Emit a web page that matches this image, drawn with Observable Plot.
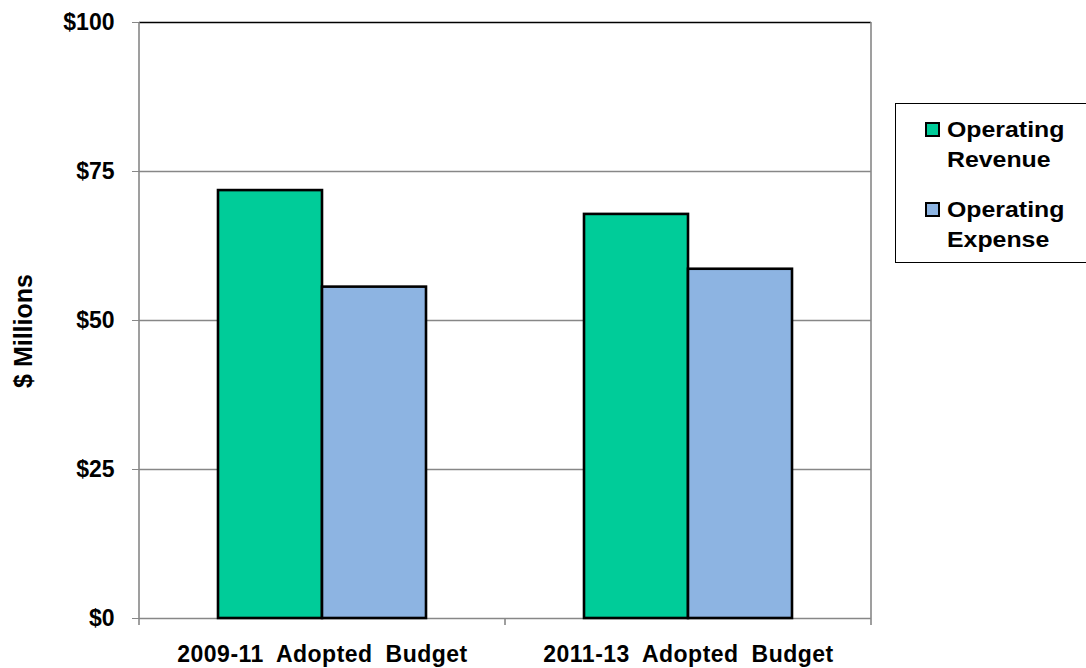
<!DOCTYPE html>
<html><head><meta charset="utf-8">
<script src="https://cdn.jsdelivr.net/npm/d3@7"></script>
<script src="https://cdn.jsdelivr.net/npm/@observablehq/plot@0.6"></script>
<style>
body{margin:0;background:#fff;font-family:"Liberation Sans",Arial,sans-serif;}
#wrap{position:relative;width:1086px;height:668px;overflow:hidden;}
#legend{position:absolute;left:895px;top:103px;width:195px;height:160px;border:1px solid #000;box-sizing:border-box;background:#fff}
.sw{position:absolute;left:29px;width:11px;height:11px;border:2px solid #000}
.item{position:absolute;left:51px;font-weight:bold;font-size:22px;line-height:30px;color:#000;white-space:nowrap;transform:scaleX(1.13);transform-origin:left center}
</style></head>
<body><div id="wrap"></div>
<script>
const budgets = ["2009-11 Adopted Budget", "2011-13 Adopted Budget"];
const seriesNames = ["Operating Revenue", "Operating Expense"];
const legendLines = [["Operating", "Revenue"], ["Operating", "Expense"]];
const revenue = [71.8, 67.8];
const expense = [55.6, 58.6];
const yTicks = [0, 25, 50, 75, 100];
const colors = ["#00CC99", "#8DB4E2"];

const data = budgets.flatMap((b, i) => [
  {budget: b, series: seriesNames[0], value: revenue[i]},
  {budget: b, series: seriesNames[1], value: expense[i]}
]);

const grid = "#878787";
const chart = Plot.plot({
  width: 1086, height: 668,
  marginLeft: 138, marginRight: 215, marginTop: 22, marginBottom: 50,
  style: {fontFamily: "'Liberation Sans', Arial, sans-serif", fontWeight: "bold", color: "#000", background: "#fff", overflow: "visible"},
  fx: {domain: budgets, padding: 0, label: null, axis: null},
  x: {domain: seriesNames, paddingInner: 0, paddingOuter: 0.754, axis: null},
  y: {domain: [0, 100], label: null, axis: null},
  color: {domain: seriesNames, range: colors},
  marks: [
    Plot.gridY(yTicks.filter(t => t > 0 && t < 100), {stroke: grid, strokeOpacity: 1, strokeWidth: 1.3}),
    Plot.ruleY([100], {stroke: "#000", strokeWidth: 1.6}),
    Plot.ruleY([0], {stroke: grid, strokeWidth: 1.6}),
    Plot.barY(data, {fx: "budget", x: "series", y: "value", fill: "series", stroke: "#000", strokeWidth: 2.6}),
    Plot.axisY({ticks: yTicks, tickFormat: d => "$" + d, tickSize: 7, tickPadding: 18, stroke: grid, fontSize: 23, label: null}),
    Plot.axisFx({anchor: "bottom", tickSize: 0, tickPadding: 27, fontSize: 23, label: null})
  ]
});

const svg = d3.select(chart);
const fx = chart.scale("fx");
const y = chart.scale("y");
const y0 = y.apply(0), y100 = y.apply(100);
const left = fx.apply(budgets[0]);
const right = fx.apply(budgets[budgets.length - 1]) + fx.bandwidth;
const g = svg.append("g").attr("stroke", grid).attr("stroke-width", 1.6);
g.append("line").attr("x1", left).attr("x2", left).attr("y1", y100).attr("y2", y0);
g.append("line").attr("x1", right).attr("x2", right).attr("y1", y100).attr("y2", y0);
const bounds = budgets.map(b => fx.apply(b)).concat([right]);
bounds.forEach(bx => g.append("line").attr("x1", bx).attr("x2", bx).attr("y1", y0).attr("y2", y0 + 7));
svg.append("text")
  .attr("transform", `translate(23,${(y0 + y100) / 2 + 11}) rotate(-90)`)
  .attr("text-anchor", "middle").attr("dy", "0.35em")
  .attr("font-size", 25).attr("font-weight", "bold").attr("fill", "#000")
  .text("$ Millions");
svg.selectAll("[aria-label='fx-axis tick label'] text").attr("word-spacing", "6px").attr("letter-spacing", "0.5px");

const wrap = document.getElementById("wrap");
wrap.appendChild(chart);
const legend = document.createElement("div");
legend.id = "legend";
legendLines.forEach((lines, i) => {
  const sw = document.createElement("div");
  sw.className = "sw";
  sw.style.top = (18 + i * 80) + "px";
  sw.style.background = colors[i];
  legend.appendChild(sw);
  const it = document.createElement("div");
  it.className = "item";
  it.style.top = (11 + i * 80) + "px";
  it.innerHTML = `${lines[0]}<br>${lines[1]}`;
  legend.appendChild(it);
});
wrap.appendChild(legend);
</script></body></html>
